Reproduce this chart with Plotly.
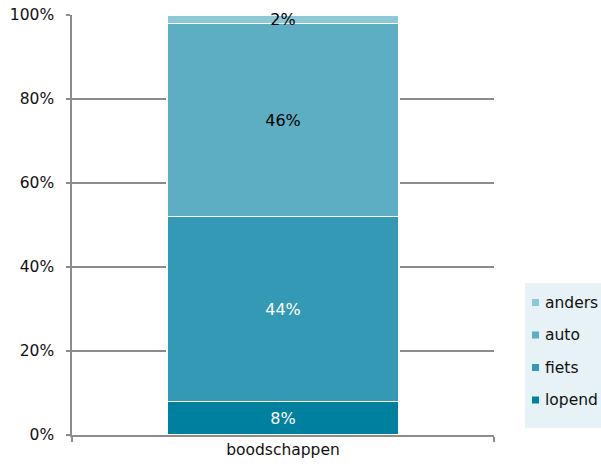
import plotly.graph_objects as go

categories = ["boodschappen"]
series_names = ["lopend", "fiets", "auto", "anders"]
series_values = [[8], [44], [46], [2]]
series_colors = ["#00809F", "#3399B4", "#5DADC3", "#8DC8D6"]
text_colors = ["white", "white", "black", "black"]
y_ticks = [0, 20, 40, 60, 80, 100]
y_ticklabels = ["0%", "20%", "40%", "60%", "80%", "100%"]

FONT = "DejaVu Sans, Verdana, sans-serif"
W, H = 601, 467
L, R, T, B = 72, 107, 15, 32
PW, PH = W - L - R, H - T - B


def px_x(px):
    return (px - L) / PW


def px_y(py):
    return (H - B - py) / PH


fig = go.Figure()
for name, vals, col, tcol in zip(series_names, series_values, series_colors, text_colors):
    fig.add_trace(go.Bar(
        x=categories, y=vals, name=name,
        marker=dict(color=col, line=dict(color="white", width=1.5)),
        text=[f"{v}%" for v in vals], textposition="inside",
        insidetextanchor="middle", textangle=0, cliponaxis=False,
        textfont=dict(color=tcol, size=16, family=FONT),
        hoverinfo="skip", showlegend=False,
    ))

# manual legend (box, swatches, labels) in paper coordinates
shapes = [dict(type="rect", xref="paper", yref="paper",
               x0=px_x(525), x1=px_x(601), y0=px_y(428), y1=px_y(283),
               fillcolor="#E6F2F5", line=dict(width=0), layer="below")]
annotations = []
legend_order = list(range(len(series_names)))[::-1]
for i, idx in enumerate(legend_order):
    cy = 302.5 + i * 32.5
    shapes.append(dict(type="rect", xref="paper", yref="paper",
                       x0=px_x(532), x1=px_x(539), y0=px_y(cy + 3.5), y1=px_y(cy - 3.5),
                       fillcolor=series_colors[idx], line=dict(width=0)))
    annotations.append(dict(xref="paper", yref="paper", x=px_x(543), y=px_y(cy),
                            xanchor="left", yanchor="middle", showarrow=False,
                            text=series_names[idx],
                            font=dict(size=15.5, family=FONT, color="#111")))

fig.update_layout(
    barmode="stack", bargap=0.45,
    width=W, height=H,
    margin=dict(l=L, r=R, t=T, b=B, autoexpand=False),
    paper_bgcolor="white", plot_bgcolor="white",
    font=dict(family=FONT, size=15.5, color="#111"),
    uniformtext=dict(minsize=10, mode="show"),
    showlegend=False,
    shapes=shapes, annotations=annotations,
    yaxis=dict(
        range=[0, 100], tickvals=y_ticks, ticktext=y_ticklabels,
        showgrid=True, gridcolor="#8C8C8C", gridwidth=1.5,
        showline=True, linecolor="#8C8C8C", linewidth=1.5,
        ticks="outside", ticklen=4, tickcolor="#8C8C8C", tickwidth=1.5,
        zeroline=False, ticklabelstandoff=9,
    ),
    xaxis=dict(
        showline=True, linecolor="#8C8C8C", linewidth=1.5,
        ticks="outside", tickson="boundaries", ticklen=5,
        tickcolor="#8C8C8C", tickwidth=1.5, showgrid=False,
    ),
)

fig.write_html("out.html")
